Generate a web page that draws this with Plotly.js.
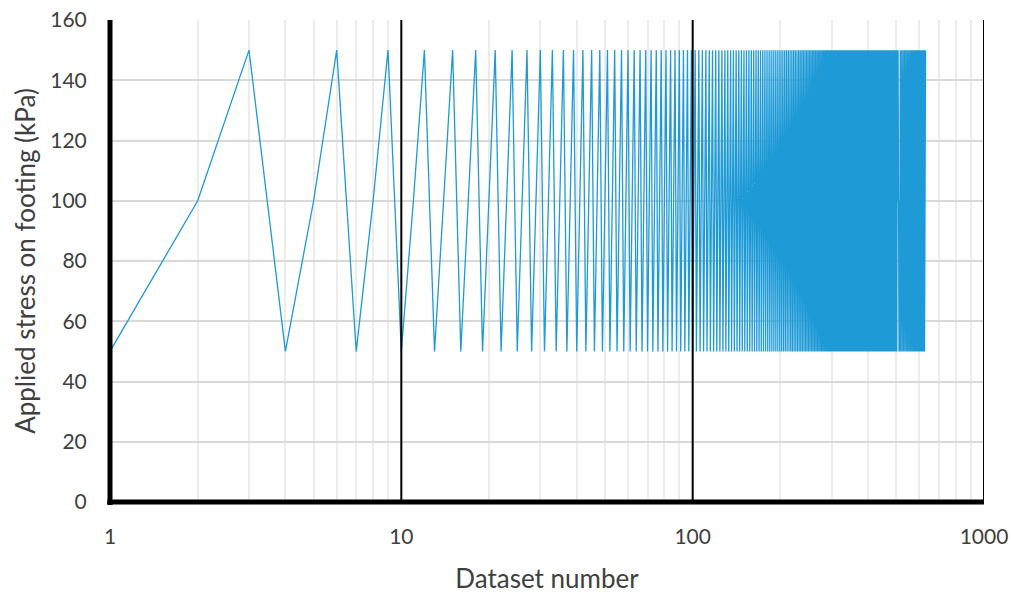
<!DOCTYPE html>
<html>
<head>
<meta charset="utf-8">
<script src="https://cdn.plot.ly/plotly-3.0.1.min.js"></script>
<style>html,body{margin:0;padding:0;background:#fff;}#chart{width:1013px;height:595px;}</style>
</head>
<body>
<div id="chart"></div>
<script>
// Applied stress (kPa) per dataset (cycle 50 -> 100 -> 150)
const stress = [
50,100,150,50,100,150,50,100,150,50,100,150,50,100,150,50,100,150,50,100,150,50,100,150,50,100,150,50,100,150,
50,100,150,50,100,150,50,100,150,50,100,150,50,100,150,50,100,150,50,100,150,50,100,150,50,100,150,50,100,150,
50,100,150,50,100,150,50,100,150,50,100,150,50,100,150,50,100,150,50,100,150,50,100,150,50,100,150,50,100,150,
50,100,150,50,100,150,50,100,150,50,100,150,50,100,150,50,100,150,50,100,150,50,100,150,50,100,150,50,100,150,
50,100,150,50,100,150,50,100,150,50,100,150,50,100,150,50,100,150,50,100,150,50,100,150,50,100,150,50,100,150,
50,100,150,50,100,150,50,100,150,50,100,150,50,100,150,50,100,150,50,100,150,50,100,150,50,100,150,50,100,150,
50,100,150,50,100,150,50,100,150,50,100,150,50,100,150,50,100,150,50,100,150,50,100,150,50,100,150,50,100,150,
50,100,150,50,100,150,50,100,150,50,100,150,50,100,150,50,100,150,50,100,150,50,100,150,50,100,150,50,100,150,
50,100,150,50,100,150,50,100,150,50,100,150,50,100,150,50,100,150,50,100,150,50,100,150,50,100,150,50,100,150,
50,100,150,50,100,150,50,100,150,50,100,150,50,100,150,50,100,150,50,100,150,50,100,150,50,100,150,50,100,150,
50,100,150,50,100,150,50,100,150,50,100,150,50,100,150,50,100,150,50,100,150,50,100,150,50,100,150,50,100,150,
50,100,150,50,100,150,50,100,150,50,100,150,50,100,150,50,100,150,50,100,150,50,100,150,50,100,150,50,100,150,
50,100,150,50,100,150,50,100,150,50,100,150,50,100,150,50,100,150,50,100,150,50,100,150,50,100,150,50,100,150,
50,100,150,50,100,150,50,100,150,50,100,150,50,100,150,50,100,150,50,100,150,50,100,150,50,100,150,50,100,150,
50,100,150,50,100,150,50,100,150,50,100,150,50,100,150,50,100,150,50,100,150,50,100,150,50,100,150,50,100,150,
50,100,150,50,100,150,50,100,150,50,100,150,50,100,150,50,100,150,50,100,150,50,100,150,50,100,150,50,100,150,
50,100,150,50,100,150,50,100,150,50,100,150,50,100,150,50,100,150,50,100,150,50,100,150,50,100,150,50,100,150,
50,100,150,50,100,150,50,100,150,50,100,150,50,100,150,50,100,150,50,100,150,50,100,150,50,100,150,50,100,150,
50,100,150,50,100,150,50,100,150,50,100,150,50,100,150,50,100,150,50,100,150,50,100,150,50,100,150,50,100,150,
50,100,150,50,100,150,50,100,150,50,100,150,50,100,150,50,100,150,50,100,150,50,100,150,50,100,150,50,100,150,
50,100,150,50,100,150,50,100,150,50,100,150,50,100,150,50,100,150,50,100,150,50,100,150,50,100,150,50,100,150
];
// Dataset numbers 1..N (index of each dataset)
const datasetNumber = stress.map((_, i) => i + 1);

const xTickVals = [1,2,3,4,5,6,7,8,9,10,20,30,40,50,60,70,80,90,100,200,300,400,500,600,700,800,900,1000];
const xTickText = ['1','','','','','','','','','10','','','','','','','','','100','','','','','','','','','1000'];
const majorDecades = [10, 100, 1000];

const fontFam = 'Lato, "Open Sans", sans-serif';
const txtColor = '#404040';

const trace = {
  x: datasetNumber,
  y: stress,
  type: 'scatter',
  mode: 'lines',
  line: {color: '#1e9ad6', width: 1.3},
  hoverinfo: 'x+y'
};

const shapes = majorDecades.map(v => ({
  type: 'line', xref: 'x', yref: 'paper', x0: v, x1: v, y0: 0, y1: 1,
  line: {color: '#000', width: 2}, layer: 'above'
}));
// thick axis lines (left at x=1, bottom at y=0)
shapes.push({type: 'line', xref: 'paper', yref: 'paper', x0: 0, x1: 0, y0: -0.006, y1: 1,
  line: {color: '#000', width: 5}, layer: 'above'});
shapes.push({type: 'line', xref: 'paper', yref: 'paper', x0: -0.003, x1: 1, y0: 0, y1: 0,
  line: {color: '#000', width: 5}, layer: 'above'});

const layout = {
  width: 1013, height: 595,
  margin: {l: 110, r: 29, t: 20, b: 93},
  paper_bgcolor: '#fff', plot_bgcolor: '#fff',
  showlegend: false,
  font: {family: fontFam, color: txtColor, size: 21},
  xaxis: {
    type: 'log', range: [0, 3],
    tickvals: xTickVals, ticktext: xTickText,
    showgrid: true, gridcolor: '#ececec', gridwidth: 2,
    zeroline: false, showline: false,
    ticks: 'outside', ticklen: 16, tickcolor: 'rgba(0,0,0,0)',
    tickfont: {family: fontFam, size: 21, color: txtColor},
    title: {text: 'Dataset number', font: {family: fontFam, size: 26, color: txtColor}, standoff: 22},
    automargin: false
  },
  yaxis: {
    range: [0, 160], dtick: 20, tick0: 0,
    showgrid: true, gridcolor: '#d9d9d9', gridwidth: 2,
    zeroline: false, showline: false,
    ticks: 'outside', ticklen: 18, tickcolor: 'rgba(0,0,0,0)',
    tickfont: {family: fontFam, size: 21, color: txtColor},
    title: {text: 'Applied stress on footing (kPa)', font: {family: fontFam, size: 26, color: txtColor}, standoff: 7},
    automargin: false
  },
  shapes: shapes
};

Plotly.newPlot('chart', [trace], layout, {displayModeBar: false, staticPlot: true});
</script>
</body>
</html>
